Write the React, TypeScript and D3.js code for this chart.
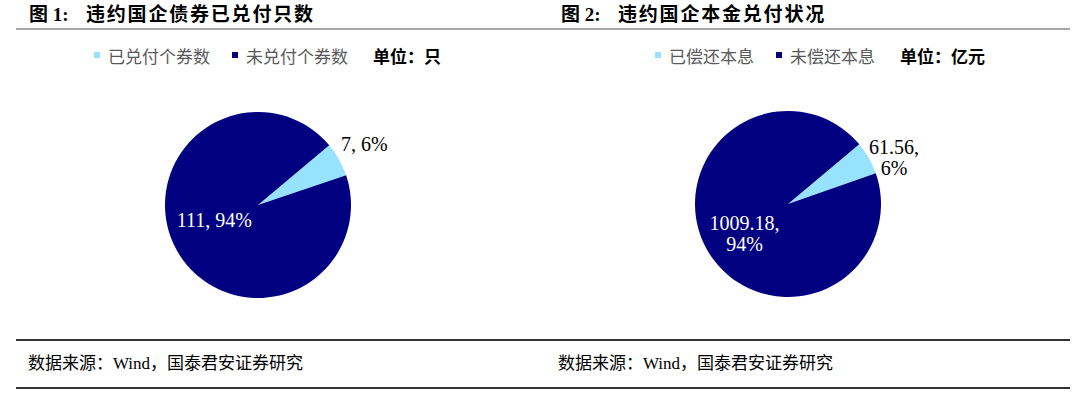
import React from "react";
import * as d3 from "d3";

// 图 1 数据
const chart1Categories = ["已兑付个券数", "未兑付个券数"];
const chart1Values = [7, 111];
// 图 2 数据
const chart2Categories = ["已偿还本息", "未偿还本息"];
const chart2Values = [61.56, 1009.18];

const colors = ["#97E3FF", "#000080"];
const W = 1080;
const H = 399;
const R = 93;
const startDeg = 50;

const cjk = "'Liberation Serif', 'Noto Sans CJK SC', serif";
const legendFont = "'Noto Sans CJK SC', sans-serif";

const charts = [
  {
    no: "1",
    title: "违约国企债券已兑付只数",
    unit: "单位：只",
    categories: chart1Categories,
    values: chart1Values,
    fmt: (v) => String(v),
    split: false,
    titleX: 29,
    cx: 258,
    cy: 205,
    legendX: 94,
    sourceX: 28,
  },
  {
    no: "2",
    title: "违约国企本金兑付状况",
    unit: "单位：亿元",
    categories: chart2Categories,
    values: chart2Values,
    fmt: (v) => v.toFixed(2),
    split: true,
    titleX: 561,
    cx: 788,
    cy: 204,
    legendX: 655,
    sourceX: 558,
  },
];

function Pie({ c }) {
  const pie = d3
    .pie<number>()
    .sort(null)
    .value((d) => d)
    .startAngle((startDeg * Math.PI) / 180)
    .endAngle((startDeg * Math.PI) / 180 + Math.PI * 2);
  const arcs = pie(c.values);
  const arc = d3.arc<any>().innerRadius(0).outerRadius(R);
  const outerLabel = d3.arc<any>().innerRadius(122).outerRadius(122);
  const innerLabel = d3.arc<any>().innerRadius(50).outerRadius(50);
  const total = d3.sum(c.values);

  // 图例
  let lx = c.legendX;
  const legend = c.categories.map((name, i) => {
    const x = lx;
    lx += 6 + 8 + name.length * 17 + 22;
    return (
      <g key={name}>
        <rect x={x} y={52} width={6} height={6} fill={colors[i]} />
        <text x={x + 14} y={63} fontSize={17} fill="#595959" fontFamily={legendFont}>
          {name}
        </text>
      </g>
    );
  });

  return (
    <g>
      <text x={c.titleX} y={21} fontSize={19} fontWeight="bold" fontFamily={cjk} fill="#000">
        {"图 " + c.no + ":"}
      </text>
      <text x={c.titleX + 57} y={21} fontSize={19} fontWeight="bold" fontFamily={cjk} fill="#000" letterSpacing={1.8}>
        {c.title}
      </text>
      {legend}
      <text x={lx + 3} y={63} fontSize={17} fontWeight="bold" fill="#000" fontFamily={legendFont}>
        {c.unit}
      </text>
      <g transform={`translate(${c.cx},${c.cy})`}>
        {arcs.map((a, i) => (
          <path key={i} d={arc(a)} fill={colors[i]} />
        ))}
        {arcs.map((a, i) => {
          const pct = Math.round((a.data / total) * 100) + "%";
          const lines = c.split ? [c.fmt(a.data) + ",", pct] : [c.fmt(a.data) + ", " + pct];
          const outside = i === 0;
          const [x, y] = outside ? outerLabel.centroid(a) : innerLabel.centroid(a);
          const y0 = outside ? y + (c.split ? 10 : 6) : y - (c.split ? -1 : 2);
          return (
            <text
              key={"l" + i}
              x={x}
              y={y0}
              textAnchor="middle"
              fontSize={20}
              fontFamily="'Liberation Serif', serif"
              fill={outside ? "#000" : "#fff"}
            >
              {lines.map((t, j) => (
                <tspan key={j} x={x} dy={j === 0 ? 0 : 21}>
                  {t}
                </tspan>
              ))}
            </text>
          );
        })}
      </g>
      <text x={c.sourceX} y={369} fontSize={17} fontFamily={cjk} fill="#000">
        数据来源：Wind，国泰君安证券研究
      </text>
    </g>
  );
}

export default function App() {
  return (
    <svg
      width={W}
      height={H}
      style={{ position: "absolute", left: 0, top: 0, background: "#fff" }}
    >
      <rect width={W} height={H} fill="#fff" />
      <line x1={16} x2={1070} y1={29} y2={29} stroke="#A6A6A6" strokeWidth={2} />
      <line x1={16} x2={1070} y1={340} y2={340} stroke="#333" strokeWidth={2} />
      <line x1={16} x2={1070} y1={388} y2={388} stroke="#333" strokeWidth={2} />
      {charts.map((c) => (
        <Pie key={c.no} c={c} />
      ))}
    </svg>
  );
}
